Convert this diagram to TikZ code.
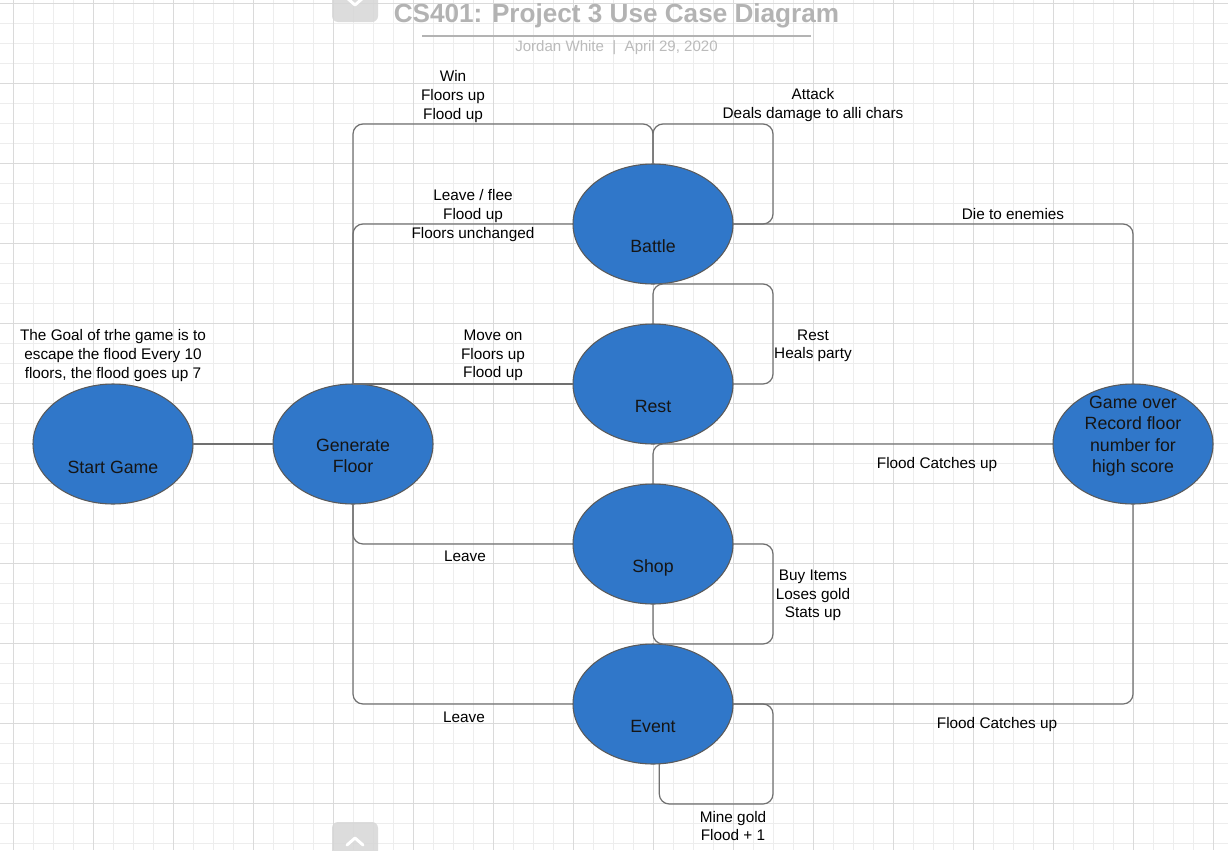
\documentclass[tikz,border=0pt]{standalone}
\usepackage{fontspec}
\setmainfont{Liberation Sans}
\usetikzlibrary{shapes.geometric}
\definecolor{ucblue}{HTML}{3077C9}
\definecolor{ucedge}{HTML}{5A5A5A}
\definecolor{ucink}{HTML}{151515}
\definecolor{conncol}{HTML}{707070}
\definecolor{gridminor}{HTML}{EDEDED}
\definecolor{gridmajor}{HTML}{DADADA}
\definecolor{titlegray}{HTML}{B3B3B3}
\definecolor{subgray}{HTML}{BBBBBB}
\definecolor{btngray}{HTML}{D6D6D6}
\tikzset{
  uc/.style={ellipse, draw=ucedge, fill=ucblue, line width=0.8pt, minimum width=120pt, minimum height=90pt, inner sep=0pt, outer sep=0pt},
  uct/.style={font=\fontsize{13.3}{16}\selectfont, text=ucink, align=center, inner sep=0pt},
  lbl/.style={font=\fontsize{11.5}{13.9}\selectfont, align=center, inner sep=0pt, text=black},
  conn/.style={draw=conncol, line width=0.9pt, rounded corners=7.5pt},
  minorg/.style={draw=gridminor, line width=0.75pt},
  majorg/.style={draw=gridmajor, line width=0.75pt},
  btn/.style={fill=btngray, fill opacity=0.85, rounded corners=4.5pt},
  chev/.style={draw=white, line width=2.2pt, line cap=round, line join=round}
}
\begin{document}
\begin{tikzpicture}[x=0.75pt,y=-0.75pt]
\useasboundingbox (0,0) rectangle (1228,850);
\clip (0,0) rectangle (1228,850);
\fill[white] (0,0) rectangle (1228,850);
% grid
\foreach \i in {0,...,61} \draw[minorg] ({13.33+20*\i},0) -- ({13.33+20*\i},850);
\foreach \j in {0,...,42} \draw[minorg] (0,{3.33+20*\j}) -- (1228,{3.33+20*\j});
\foreach \i in {0,...,15} \draw[majorg] ({13.33+80*\i},0) -- ({13.33+80*\i},850);
\foreach \j in {0,...,10} \draw[majorg] (0,{3.33+80*\j}) -- (1228,{3.33+80*\j});
% panel buttons
\fill[btn] (332,-12) rectangle (378,22);
\draw[chev] (347,-2) -- (355,5) -- (363,-2);
\fill[btn] (332,822) rectangle (378,862);
\draw[chev] (347,845) -- (355,838) -- (363,845);
% title
\node[font=\bfseries\fontsize{19.6}{23}\selectfont, text=titlegray, inner sep=0pt] (title) at (616.5,16) {CS401: Project 3 Use Case Diagram};
\draw[titlegray, line width=1.5pt] (422,35.5) -- (811,35.5);
\node[font=\fontsize{11.3}{13}\selectfont, text=subgray, inner sep=0pt] (sub) at (616.5,48) {Jordan White\ \ |\ \ April 29, 2020};
% use cases
\node[uc, label={[uct,yshift=-17.2pt]center:Start Game}] (start) at (113,444) {};
\node[uc, label={[uct,yshift=-9pt]center:Generate\\Floor}] (gen) at (353,444) {};
\node[uc, label={[uct,yshift=-16.8pt]center:Battle}] (battle) at (653,224) {};
\node[uc, label={[uct,yshift=-16.8pt]center:Rest}] (rest) at (653,384) {};
\node[uc, label={[uct,yshift=-18pt]center:Shop}] (shop) at (653,544) {};
\node[uc, label={[uct,yshift=-16.8pt]center:Event}] (event) at (653,704) {};
\node[uc, label={[uct,yshift=6pt]center:Game over\\Record floor\\number for\\high score}] (over) at (1133,444) {};
% helper levels
\coordinate (yTop) at (0,124);
\coordinate (xLoop) at (773,0);
\coordinate (yBot) at (0,804);
% connectors
\draw[conn] (start) -- (gen);
\draw[conn] (gen.north) -- (gen.north |- yTop) -- (battle.north |- yTop) -- (battle.north);
\draw[conn] (battle.north) -- (battle.north |- yTop) -- (xLoop |- yTop) -- (xLoop |- battle.east) -- (battle.east);
\draw[conn] (gen.north) |- (battle.west);
\draw[conn] (battle.east) -| (over.north);
\draw[conn] (rest.north) -- (rest.north |- battle.south) -- (xLoop |- battle.south) -- (xLoop |- rest.east) -- (rest.east);
\draw[conn] (gen.north) -- (rest.west);
\draw[conn] (shop.north) |- (over.west);
\draw[conn] (gen.south) |- (shop.west);
\draw[conn] (shop.east) -- (xLoop |- shop.east) -- (xLoop |- event.north) -- (event.north) -- (shop.south);
\draw[conn] (gen.south) |- (event.west);
\draw[conn] (event.east) -| (over.south);
\draw[conn] (event.east) -- (xLoop |- event.east) -- (xLoop |- yBot) -- (event.-84.3 |- yBot) -- (event.-84.3);
% labels
\node[lbl] (lgoal) at (113,355.5) {The Goal of trhe game is to\\escape the flood Every 10\\floors, the flood goes up 7};
\node[lbl] (lwin) at (453,96.5) {Win\\Floors up\\Flood up};
\node[lbl] (lattack) at (813,105) {Attack\\Deals damage to alli chars};
\node[lbl] (lflee) at (473,215.5) {Leave / flee\\Flood up\\Floors unchanged};
\node[lbl] (ldie) at (1013,214) {Die to enemies};
\node[lbl] (lrest) at (813,346) {Rest\\Heals party};
\node[lbl] (lmove) at (493,355.5) {Move on\\Floors up\\Flood up};
\node[lbl] (lflood1) at (937,465) {Flood Catches up};
\node[lbl] (lleave1) at (465,556) {Leave};
\node[lbl] (lbuy) at (813,595.5) {Buy Items\\Loses gold\\Stats up};
\node[lbl] (lleave2) at (464,717) {Leave};
\node[lbl] (lflood2) at (997,725) {Flood Catches up};
\node[lbl] (lmine) at (733,826) {Mine gold\\Flood + 1};
\end{tikzpicture}
\end{document}
